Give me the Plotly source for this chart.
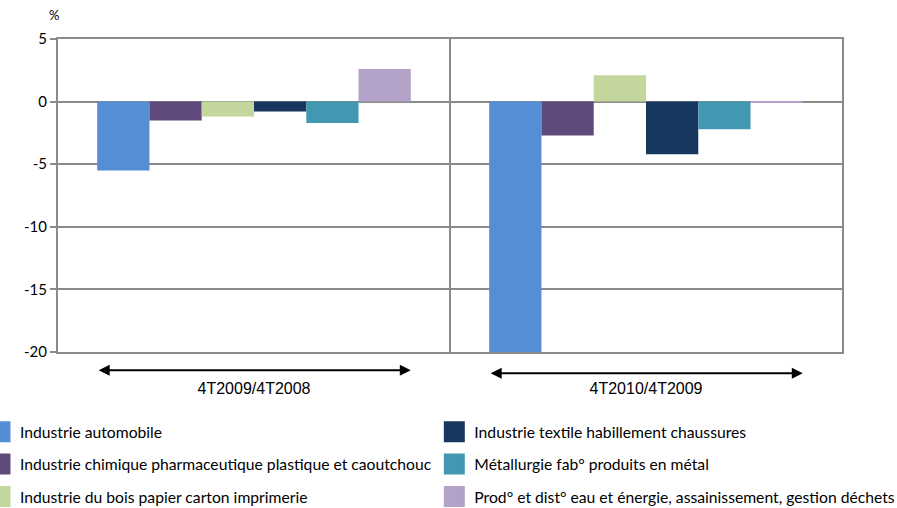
import plotly.graph_objects as go

periods = ["4T2009/4T2008", "4T2010/4T2009"]
sectors = [
    "Industrie automobile",
    "Industrie chimique pharmaceutique plastique et caoutchouc",
    "Industrie du bois papier carton imprimerie",
    "Industrie textile habillement chaussures",
    "Métallurgie fab° produits en métal",
    "Prod° et dist° eau et énergie, assainissement, gestion déchets",
]
auto = [-5.5, -20.0]
chimie = [-1.5, -2.7]
bois = [-1.2, 2.1]
textile = [-0.8, -4.2]
metal = [-1.7, -2.2]
eau = [2.6, -0.05]
values = [auto, chimie, bois, textile, metal, eau]

y_ticks = [5, 0, -5, -10, -15, -20]
y_labels = ["5", "0", "-5", "-10", "-15", "-20"]

colors = ["#558ED5", "#604A7B", "#C3D69B", "#17375E", "#4298B0", "#B3A2C7"]
legend_ids = ["legend", "legend", "legend", "legend2", "legend2", "legend2"]

GRID = "#8a8a8a"
BARGAP = 0.2

fig = go.Figure()
for i, (name, vals, col) in enumerate(zip(sectors, values, colors)):
    fig.add_bar(name=name, x=periods, y=vals, marker_color=col,
                marker_line_width=0, showlegend=False)
# legend entries with big square swatches
for i, (name, col) in enumerate(zip(sectors, colors)):
    fig.add_scatter(
        name=name, x=[None], y=[None], mode="markers",
        marker=dict(symbol="square", size=16, color=col, line=dict(color=col, width=5)),
        legend=legend_ids[i], legendgroup=f"g{i}",
    )

# double arrows under each group of bars
half = (1 - BARGAP) / 2
for i, yp in enumerate([-0.058, -0.068]):
    fig.add_annotation(
        x=i + half, y=yp, xref="x", yref="paper",
        ax=i - half, ay=0, axref="x", ayref="pixel",
        text="", showarrow=True, arrowhead=2, arrowsize=1.1, arrowwidth=2,
        arrowside="end+start", arrowcolor="#000000",
    )

fig.add_annotation(
    x=-0.005, y=1.077, xref="paper", yref="paper", text="%", showarrow=False,
    font=dict(size=13, color="#000000"), xanchor="center", yanchor="middle",
)

legend_style = dict(
    orientation="v", font=dict(family="Lato, Calibri, sans-serif", size=15.7, color="#000000"),
    bgcolor="rgba(0,0,0,0)", tracegroupgap=9, xanchor="left", yanchor="top",
)

fig.update_layout(
    width=897, height=508,
    margin=dict(l=58, r=55, t=39, b=156, autoexpand=False),
    paper_bgcolor="white", plot_bgcolor="white",
    font=dict(family="Lato, Calibri, sans-serif", color="#000000"),
    barmode="group", bargap=BARGAP, bargroupgap=0,
    showlegend=True,
    legend=dict(x=-0.0995, y=-0.2013, **legend_style),
    legend2=dict(x=0.48, y=-0.2013, **legend_style),
    xaxis=dict(
        tickson="boundaries", showgrid=True, gridcolor=GRID, gridwidth=2,
        ticks="", tickfont=dict(family="Liberation Sans, Arial, sans-serif", size=16),
        ticklabelstandoff=21, showline=True, mirror=True, linecolor=GRID, linewidth=2,
        zeroline=False,
    ),
    yaxis=dict(
        range=[-20, 5], tickvals=y_ticks, ticktext=y_labels,
        showgrid=True, gridcolor=GRID, gridwidth=2,
        zeroline=True, zerolinecolor=GRID, zerolinewidth=2,
        ticks="outside", ticklen=6, tickcolor=GRID, tickwidth=2,
        tickfont=dict(size=15), showline=True, mirror=True, linecolor=GRID, linewidth=2,
    ),
)

fig.write_html("out.html", config={"displayModeBar": False},
               post_script="document.body.style.margin = '0';")
